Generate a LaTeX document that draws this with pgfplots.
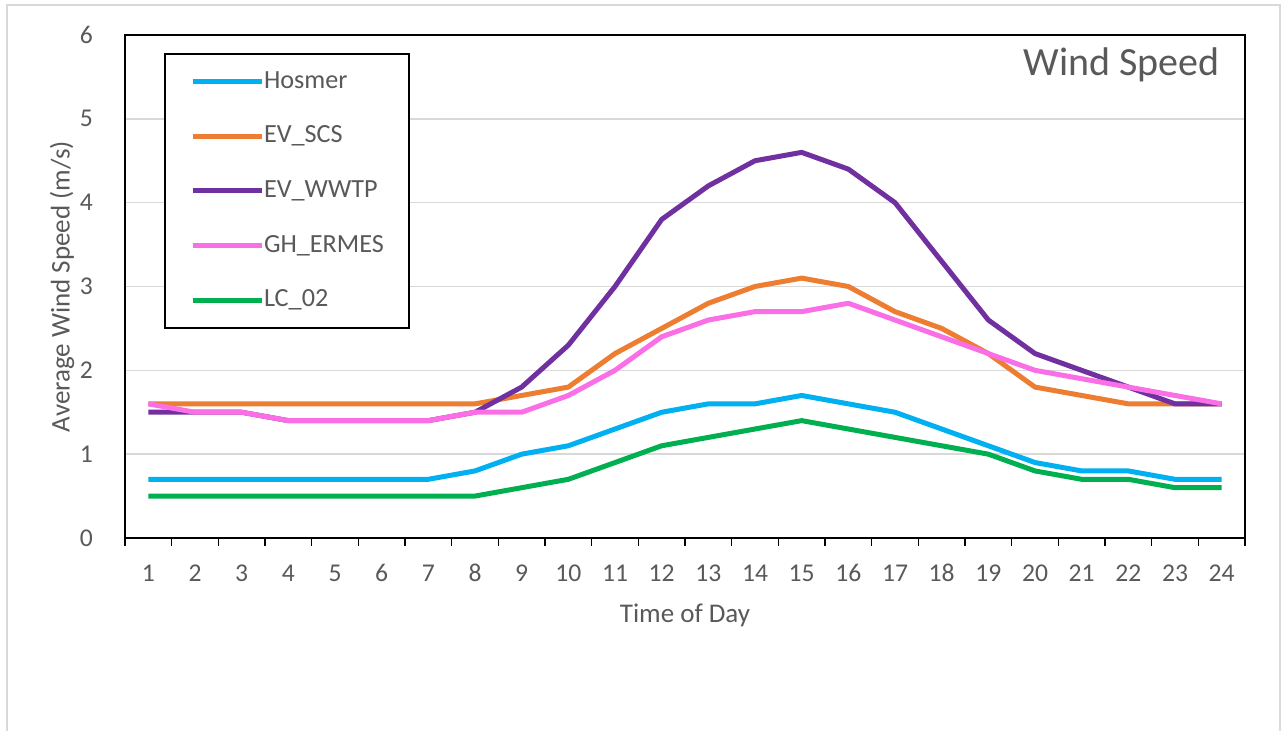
\documentclass[border=0pt]{standalone}
\usepackage{pgfplots}
\pgfplotsset{compat=1.18}
\usepackage{fontspec}
\setmainfont{Carlito}
\definecolor{cHos}{HTML}{00B0F0}
\definecolor{cSCS}{HTML}{ED7D31}
\definecolor{cWW}{HTML}{7030A0}
\definecolor{cGH}{HTML}{FA6EE6}
\definecolor{cLC}{HTML}{00B050}
\definecolor{txt}{HTML}{595959}
\definecolor{grd}{HTML}{D9D9D9}
\pgfplotstableread{
h Hos SCS WW GH LC
1 0.7 1.6 1.5 1.6 0.5
2 0.7 1.6 1.5 1.5 0.5
3 0.7 1.6 1.5 1.5 0.5
4 0.7 1.6 1.4 1.4 0.5
5 0.7 1.6 1.4 1.4 0.5
6 0.7 1.6 1.4 1.4 0.5
7 0.7 1.6 1.4 1.4 0.5
8 0.8 1.6 1.5 1.5 0.5
9 1.0 1.7 1.8 1.5 0.6
10 1.1 1.8 2.3 1.7 0.7
11 1.3 2.2 3.0 2.0 0.9
12 1.5 2.5 3.8 2.4 1.1
13 1.6 2.8 4.2 2.6 1.2
14 1.6 3.0 4.5 2.7 1.3
15 1.7 3.1 4.6 2.7 1.4
16 1.6 3.0 4.4 2.8 1.3
17 1.5 2.7 4.0 2.6 1.2
18 1.3 2.5 3.3 2.4 1.1
19 1.1 2.2 2.6 2.2 1.0
20 0.9 1.8 2.2 2.0 0.8
21 0.8 1.7 2.0 1.9 0.7
22 0.8 1.6 1.8 1.8 0.7
23 0.7 1.6 1.6 1.7 0.6
24 0.7 1.6 1.6 1.6 0.6
}\data
\begin{document}
\begin{tikzpicture}
\path[use as bounding box] (-62.5pt,-96.5pt) rectangle (579pt,269pt);
\draw[grd, line width=1pt] (-59pt,-100pt) -- (-59pt,266.5pt) -- (577.5pt,266.5pt) -- (577.5pt,-100pt);
\begin{axis}[
  at={(0,0)}, anchor=south west,
  scale only axis, width=560pt, height=251.5pt,
  xmin=0.5, xmax=24.5, ymin=0, ymax=6,
  xtick={1,...,24}, ytick={0,...,6},
  minor xtick={0.5,1.5,...,24.5},
  major tick length=0pt, minor tick length=4pt,
  tick align=outside, xtick pos=bottom, ytick pos=left,
  every tick/.style={black, line width=0.8pt},
  ymajorgrids, grid style={grd, line width=0.8pt},
  axis line style={black, line width=1pt},
  /pgf/number format/assume math mode=true,
  tick label style={font=\fontsize{12.8}{12.8}\selectfont, text=txt},
  xticklabel style={anchor=center, yshift=-17.5pt},
  yticklabel style={anchor=east, xshift=-12.5pt},
  xlabel={Time of Day}, ylabel={Average Wind Speed (m/s)},
  every axis x label/.style={at={(axis description cs:0.5,0)}, anchor=center, yshift=-38.5pt, font=\fontsize{13.5}{13.5}\selectfont, text=txt},
  every axis y label/.style={at={([xshift=-31.5pt]axis description cs:0,0.5)}, anchor=center, rotate=90, font=\fontsize{13.5}{13.5}\selectfont, text=txt},
  legend cell align=left,
  legend style={at={(rel axis cs:0,1)}, anchor=north west, xshift=19.5pt, yshift=-9pt,
    draw=black, line width=1pt, font=\fontsize{13.1}{13.1}\selectfont, text=txt,
    inner xsep=12.5pt, inner ysep=7.6pt, row sep=14.8pt,
    nodes={inner sep=0pt, text height=9.5pt, text depth=3pt}},
  legend image code/.code={\path (0pt,0pt) -- (34.5pt,0pt); \draw[#1, line width=2.5pt, line cap=round] (5.5pt,0pt) -- (33.5pt,0pt);},
  every axis plot/.append style={line width=2.5pt, line join=round},
]
\addplot[cHos] table[x=h,y=Hos] {\data};
\addplot[cSCS] table[x=h,y=SCS] {\data};
\addplot[cWW] table[x=h,y=WW] {\data};
\addplot[cGH] table[x=h,y=GH] {\data};
\addplot[cLC] table[x=h,y=LC] {\data};
\legend{Hosmer,EV\_SCS,EV\_WWTP,GH\_ERMES,LC\_02}
\node[anchor=east, inner sep=0pt, text=txt, font=\fontsize{20}{20}\selectfont] at ([xshift=-12.5pt,yshift=-15pt]rel axis cs:1,1) {Wind Speed};
\end{axis}
\end{tikzpicture}
\end{document}
